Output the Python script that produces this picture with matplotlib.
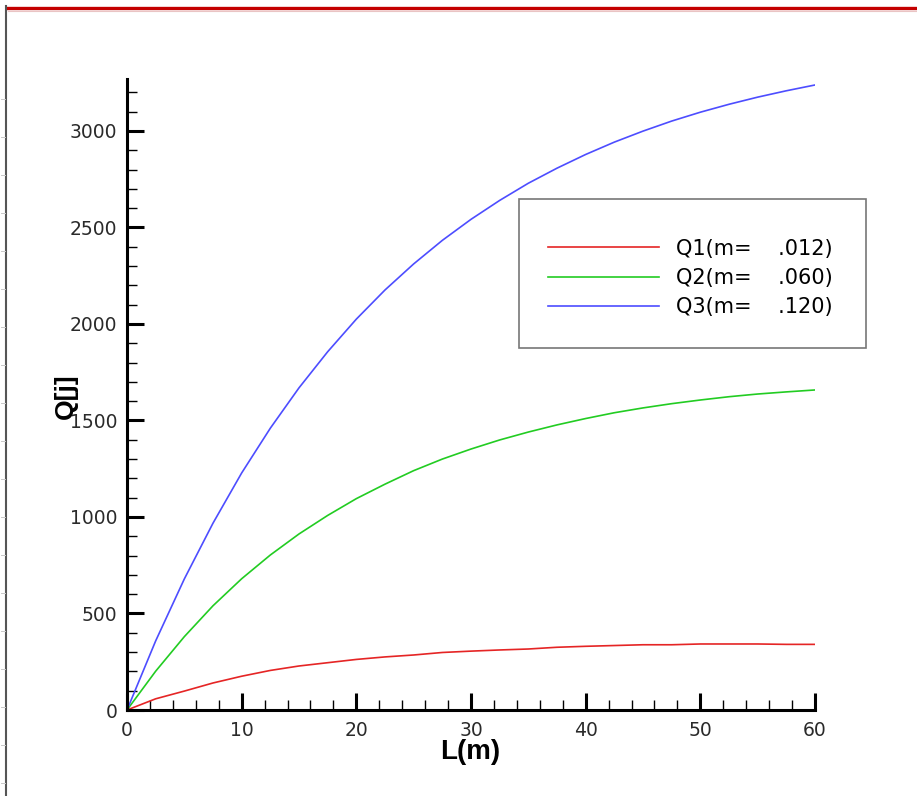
import numpy as np
import matplotlib
matplotlib.use("Agg")
from matplotlib import pyplot as plt
from matplotlib.lines import Line2D
from matplotlib.patches import Rectangle
import matplotlib.ticker as mtick

# data
L = [0, 2.5, 5, 7.5, 10, 12.5, 15, 17.5, 20, 22.5, 25, 27.5, 30,
     32.5, 35, 37.5, 40, 42.5, 45, 47.5, 50, 52.5, 55, 57.5, 60]
q1 = [0, 58, 98, 140, 175, 205, 228, 245, 262, 275, 285, 298, 305,
      311, 316, 325, 330, 334, 338, 338, 342, 342, 342, 340, 340]
q2 = [0, 201, 380, 540, 680, 803, 912, 1008, 1095, 1170, 1240, 1300, 1352,
      1399, 1440, 1477, 1510, 1540, 1565, 1587, 1606, 1623, 1637, 1648, 1658]
q3 = [0, 358, 679, 968, 1228, 1460, 1669, 1856, 2025, 2176, 2311, 2433, 2542,
      2640, 2729, 2807, 2878, 2942, 2999, 3051, 3097, 3138, 3175, 3208, 3238]
labels = ["Q1(m=    .012)", "Q2(m=    .060)", "Q3(m=    .120)"]
colors = ["#e52525", "#22cc22", "#4d4dff"]

W, H = 917, 796
fig = plt.figure(figsize=(W / 100, H / 100), dpi=100)
fig.patch.set_facecolor("white")

# window frame leftovers from the screenshot
fig.add_artist(Line2D([8 / W, 1], [1 - 7.5 / H] * 2, transform=fig.transFigure,
                      color="#c40000", lw=2.4))
fig.add_artist(Line2D([8 / W, 1], [1 - 10.5 / H] * 2, transform=fig.transFigure,
                      color="#e9c4c4", lw=0.8))
fig.add_artist(Line2D([6 / W] * 2, [0, 1 - 6 / H], transform=fig.transFigure,
                      color="#555555", lw=1.5))
for yy in range(99, 796, 38):
    fig.add_artist(Line2D([1 / W, 5 / W], [1 - yy / H] * 2, transform=fig.transFigure,
                          color="#c8c8c8", lw=0.7))

ax = fig.add_axes([127 / W, 86 / H, 688 / W, 631 / H])
for q, c, lab in zip([q1, q2, q3], colors, labels):
    ax.plot(L, q, color=c, lw=1.2, label=lab)

ax.set_xlim(0, 60)
ax.set_ylim(0, 3269)
ax.spines["top"].set_visible(False)
ax.spines["right"].set_visible(False)
for s in ["left", "bottom"]:
    ax.spines[s].set_linewidth(2.2)
ax.xaxis.set_major_locator(mtick.MultipleLocator(10))
ax.xaxis.set_minor_locator(mtick.MultipleLocator(2))
ax.yaxis.set_major_locator(mtick.MultipleLocator(500))
ax.yaxis.set_minor_locator(mtick.MultipleLocator(100))
ax.tick_params(which="major", direction="in", length=12, width=2.2, color="black",
               labelsize=13.5, labelcolor="#2a2a2a")
ax.tick_params(which="minor", direction="in", length=7, width=1.0, color="black")
ax.tick_params(axis="y", which="major", pad=7)
ax.tick_params(axis="x", which="major", pad=8)
for t in ax.get_xticklabels() + ax.get_yticklabels():
    t.set_fontfamily("DejaVu Sans")

ax.set_xlabel("L(m)", fontsize=20, fontweight="bold", fontfamily="Liberation Sans")
ax.xaxis.set_label_coords(0.4985, -0.046)
ax.set_ylabel("Q[j]", fontsize=19, fontweight="bold", fontfamily="Liberation Sans",
              va="center")
ax.yaxis.set_label_coords(-0.0887, 0.498)

# legend box sticks out past the axes, as in the original
fig.add_artist(Rectangle((519 / W, 1 - 348 / H), 347 / W, 149 / H,
                         transform=fig.transFigure, fill=False,
                         edgecolor="#777777", lw=1.2))
ax.legend(loc="center left", bbox_to_anchor=(538 / W, 1 - 278 / H),
          bbox_transform=fig.transFigure, frameon=False, borderpad=0,
          handlelength=5.3, handletextpad=0.8, labelspacing=0.45,
          prop={"family": "DejaVu Sans", "size": 15})

fig.savefig("out.png", dpi=100)
